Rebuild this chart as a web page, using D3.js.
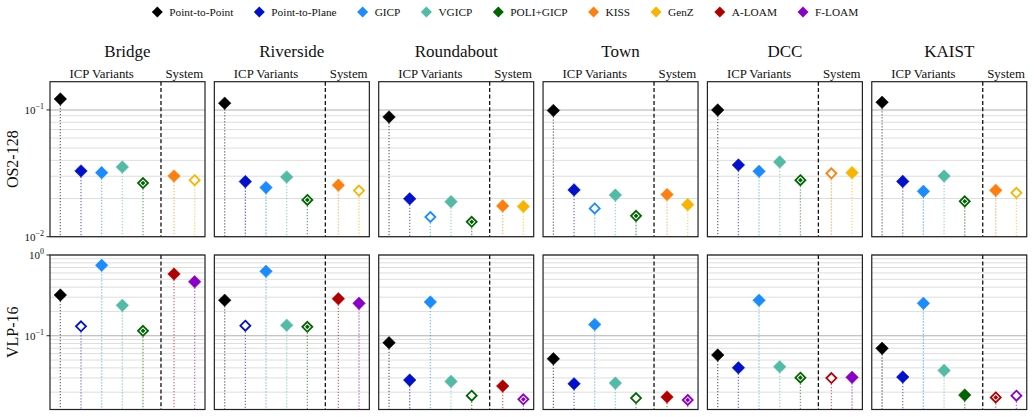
<!DOCTYPE html>
<html>
<head>
<meta charset="utf-8">
<script src="https://cdn.jsdelivr.net/npm/d3@7"></script>
<style>
  body { margin: 0; background: #fff; }
  svg text { font-family: "Liberation Serif", "Times New Roman", serif; fill: #111; }
</style>
</head>
<body>
<div id="chart"></div>
<script>
// datos
const datasets = ['Bridge', 'Riverside', 'Roundabout', 'Town', 'DCC', 'KAIST'];
const icpMethods = ['Point-to-Point', 'Point-to-Plane', 'GICP', 'VGICP', 'POLI+GICP'];
const os2Systems = ['KISS', 'GenZ'];
const vlpSystems = ['A-LOAM', 'F-LOAM'];
const legendNames = ['Point-to-Point', 'Point-to-Plane', 'GICP', 'VGICP', 'POLI+GICP', 'KISS', 'GenZ', 'A-LOAM', 'F-LOAM'];

// OS2-128: P2P, P2Plane, GICP, VGICP, POLI+GICP, KISS, GenZ
const os2Values = [
  [0.122, 0.033, 0.032, 0.0355, 0.0265, 0.0301, 0.0279],
  [0.113, 0.0272, 0.0244, 0.0296, 0.0195, 0.0255, 0.0231],
  [0.088, 0.0199, 0.0143, 0.0189, 0.0131, 0.0175, 0.0173],
  [0.099, 0.0234, 0.0167, 0.0213, 0.0146, 0.0215, 0.0179],
  [0.100, 0.0368, 0.0328, 0.0389, 0.0279, 0.0316, 0.032],
  [0.115, 0.0273, 0.0228, 0.0301, 0.019, 0.0232, 0.0222]
];
// VLP-16: P2P, P2Plane, GICP, VGICP, POLI+GICP, A-LOAM, F-LOAM
const vlpValues = [
  [0.319, 0.131, 0.745, 0.238, 0.115, 0.582, 0.467],
  [0.275, 0.133, 0.628, 0.135, 0.129, 0.287, 0.252],
  [0.0819, 0.0282, 0.262, 0.0272, 0.0181, 0.0238, 0.0163],
  [0.0519, 0.0254, 0.138, 0.0259, 0.0169, 0.0174, 0.0160],
  [0.0577, 0.0401, 0.275, 0.0413, 0.0302, 0.0299, 0.0305],
  [0.0698, 0.0308, 0.252, 0.0372, 0.0184, 0.0172, 0.0181]
];
// f = relleno, h = hueco (mejor baseline), b = mejor (anillo + punto)
const os2Marks = ['ffffbfh', 'ffffbfh', 'ffhfbff', 'ffhfbff', 'ffffbhf', 'ffffbfh'];
const vlpMarks = ['fhffbff', 'fhffbff', 'ffffhfb', 'ffffhfb', 'ffffbhf', 'fffffbh'];

const rowNames = ['OS2-128', 'VLP-16'];
const os2Domain = [0.01, 0.167];
const vlpDomain = [0.0122, 1];

const colors = {
  'Point-to-Point': '#000000',
  'Point-to-Plane': '#0010cc',
  'GICP': '#1a8cff',
  'VGICP': '#52bba6',
  'POLI+GICP': '#006400',
  'KISS': '#ff7f0e',
  'GenZ': '#f9b400',
  'A-LOAM': '#b00000',
  'F-LOAM': '#8a00c6'
};

const W = 1034, H = 417;
const panelW = 155, panelStep = 164.35, left0 = 50;
const rows = [
  { y0: 81.7, h: 155, domain: os2Domain, values: os2Values, marks: os2Marks, systems: os2Systems },
  { y0: 255, h: 154.5, domain: vlpDomain, values: vlpValues, marks: vlpMarks, systems: vlpSystems }
];
const xPos = [0, 1, 2, 3, 4, 5.5, 6.5];
const sepPos = 4.87;

const svg = d3.select('#chart').append('svg')
  .attr('width', W).attr('height', H)
  .attr('font-family', '"Liberation Serif", "Times New Roman", serif');

const x = d3.scaleLinear().domain([-0.5, 7]).range([0, panelW]);

function diamond(r) {
  return `M0,${-r}L${r},0L0,${r}L${-r},0Z`;
}

rows.forEach((row, ri) => {
  const y = d3.scaleLog().domain(row.domain).range([row.h, 0]);
  const lo = Math.floor(Math.log10(row.domain[0]));
  const hi = Math.ceil(Math.log10(row.domain[1]));
  const gridVals = [];
  for (let e = lo; e <= hi; e++) {
    for (let k = 1; k <= 9; k++) {
      const v = k * Math.pow(10, e);
      if (v >= row.domain[0] * 0.999 && v <= row.domain[1] * 1.001) gridVals.push({ v, e, major: k === 1 });
    }
  }

  datasets.forEach((ds, ci) => {
    const g = svg.append('g')
      .attr('transform', `translate(${left0 + ci * panelStep}, ${row.y0})`);

    // grid
    g.selectAll('.grid').data(gridVals).enter().append('line')
      .attr('x1', 0).attr('x2', panelW)
      .attr('y1', d => y(d.v)).attr('y2', d => y(d.v))
      .attr('stroke', d => d.major ? '#b0b0b0' : '#dedede')
      .attr('stroke-width', d => d.major ? 1.1 : 1);

    // separator
    g.append('line')
      .attr('x1', x(sepPos)).attr('x2', x(sepPos))
      .attr('y1', 0).attr('y2', row.h)
      .attr('stroke', '#111').attr('stroke-width', 1.3)
      .attr('stroke-dasharray', '4,2.4');

    const methods = icpMethods.concat(row.systems);
    const vals = row.values[ci];
    const pts = methods.map((m, i) => ({ m, v: vals[i], mark: row.marks[ci][i], xi: xPos[i] }));

    // stems
    g.selectAll('.stem').data(pts).enter().append('line')
      .attr('x1', d => x(d.xi)).attr('x2', d => x(d.xi))
      .attr('y1', d => y(d.v)).attr('y2', row.h)
      .attr('stroke', d => colors[d.m])
      .attr('stroke-opacity', 0.55)
      .attr('stroke-width', 1.3)
      .attr('stroke-dasharray', '1.3,1.7');

    // markers
    const mk = g.selectAll('.mk').data(pts).enter().append('g')
      .attr('transform', d => `translate(${x(d.xi)}, ${y(d.v)})`);
    mk.append('path')
      .attr('d', d => d.mark === 'f' ? diamond(6.3) : diamond(5))
      .attr('fill', d => d.mark === 'f' ? colors[d.m] : '#fff')
      .attr('stroke', d => colors[d.m])
      .attr('stroke-width', d => d.mark === 'f' ? 0.5 : 1.8);
    mk.filter(d => d.mark === 'b').append('path')
      .attr('d', diamond(2.4))
      .attr('fill', d => colors[d.m]);

    // frame
    g.append('rect')
      .attr('width', panelW).attr('height', row.h)
      .attr('fill', 'none').attr('stroke', '#222').attr('stroke-width', 1.2);

    if (ri === 0) {
      const px = left0 + ci * panelStep;
      svg.append('text')
        .attr('x', px + panelW / 2).attr('y', 57)
        .attr('text-anchor', 'middle').attr('font-size', '17px').text(ds);
      svg.append('text')
        .attr('x', px + x(2)).attr('y', 77.5)
        .attr('text-anchor', 'middle').attr('font-size', '12.8px').text('ICP Variants');
      svg.append('text')
        .attr('x', px + x(6)).attr('y', 77.5)
        .attr('text-anchor', 'middle').attr('font-size', '12.8px').text('System');
    }

    if (ci === 0) {
      gridVals.filter(d => d.major).forEach(d => {
        g.append('line').attr('x1', -3.5).attr('x2', 0)
          .attr('y1', y(d.v)).attr('y2', y(d.v)).attr('stroke', '#222');
        const t = g.append('text')
          .attr('x', -6).attr('y', y(d.v) + 4)
          .attr('text-anchor', 'end').attr('font-size', '11px');
        t.append('tspan').text('10');
        t.append('tspan').attr('dy', -5).attr('font-size', '8px')
          .text(d.e === 0 ? '0' : '\u2212' + Math.abs(d.e));
      });
      svg.append('text')
        .attr('transform', `translate(18, ${row.y0 + row.h / 2}) rotate(-90)`)
        .attr('text-anchor', 'middle').attr('font-size', '16px').text(rowNames[ri]);
    }
  });
});

// legend: reparte los items entre x=157 y x=858 como en la figura
const leg = svg.append('g').attr('transform', 'translate(157.3, 12)');
const items = legendNames.map(name => {
  const item = leg.append('g');
  item.append('path').attr('d', diamond(5.5)).attr('fill', colors[name]);
  const t = item.append('text').attr('x', 12).attr('y', 4)
    .attr('font-size', '11.3px').text(name);
  return { item, w: 12 + t.node().getComputedTextLength() };
});
const totalW = d3.sum(items, d => d.w);
const gap = (858.3 - 157.3 - totalW) / (items.length - 1);
let cx = 0;
items.forEach(d => {
  d.item.attr('transform', `translate(${cx}, 0)`);
  cx += d.w + gap;
});
</script>
</body>
</html>
